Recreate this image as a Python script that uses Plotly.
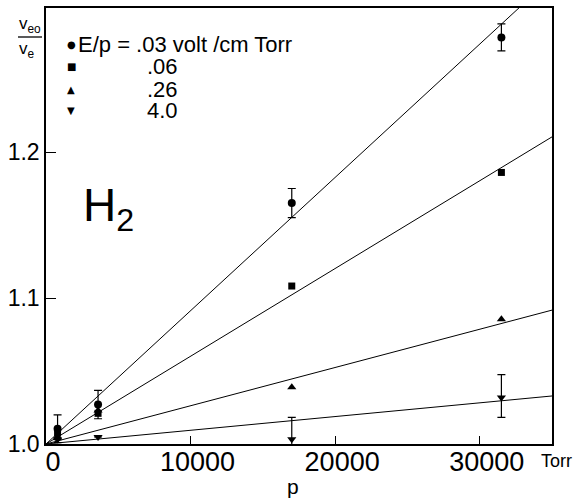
import plotly.graph_objects as go

# ---- data ----
pressure = [800, 3600, 17000, 31500]  # Torr
ratio_003 = [1.0105, 1.027, 1.1650, 1.2785]
err_003 = [0.0095, 0.0097, 0.0100, 0.0092]
ratio_006 = [1.0075, 1.021, 1.1082, 1.1860]
ratio_026 = [1.0050, 1.023, 1.0388, 1.0854]
ratio_40 = [1.0030, 1.0048, 1.0032, 1.0319]
err_40_plus = [0.0, 0.0, 0.0151, 0.0156]
err_40_minus = [0.0, 0.0, 0.0119, 0.0137]

series_names = [".03", ".06", ".26", "4.0"]
fit_slopes = [9.13e-6, 6.01e-6, 2.62e-6, 0.94e-6]  # per Torr, lines through (0, 1.0)
fit_x = [0, 35000]

x_ticks = [0, 10000, 20000, 30000]
y_ticks = [1.0, 1.1, 1.2]

FONT = "Liberation Sans"
W, H = 582, 501
ML, MR, MT, MB = 46, 30, 8, 57
PW, PH = W - ML - MR, H - MT - MB


def px(xpix):
    return (xpix - ML) / PW


def py(ypix):
    return (H - MB - ypix) / PH


fig = go.Figure()

# fitted lines
for s in fit_slopes:
    fig.add_trace(go.Scatter(
        x=fit_x, y=[1.0 + s * v for v in fit_x], mode="lines",
        line=dict(color="black", width=1), showlegend=False, hoverinfo="skip"))

common = dict(mode="markers", showlegend=False, cliponaxis=False)
fig.add_trace(go.Scatter(
    x=pressure, y=ratio_003, marker=dict(symbol="circle", size=8, color="black"),
    error_y=dict(type="data", array=err_003, color="black", thickness=1.2, width=4),
    **common))
fig.add_trace(go.Scatter(
    x=pressure, y=ratio_006, marker=dict(symbol="square", size=7, color="black"),
    **common))
fig.add_trace(go.Scatter(
    x=pressure, y=ratio_026, marker=dict(symbol="triangle-up", size=8, color="black"),
    **common))
fig.add_trace(go.Scatter(
    x=pressure, y=ratio_40, marker=dict(symbol="triangle-down", size=8, color="black"),
    error_y=dict(type="data", symmetric=False, array=err_40_plus,
                 arrayminus=err_40_minus, color="black", thickness=1.2, width=4),
    **common))

fig.update_xaxes(
    range=[0, 35000], tickvals=x_ticks, tickformat="d", automargin=False,
    ticks="inside", ticklen=8, tickwidth=1.2, tickcolor="black",
    ticklabelshift=7, ticklabelstandoff=-7,
    showline=True, linecolor="black", linewidth=1.5, mirror=True,
    showgrid=False, zeroline=False,
    tickfont=dict(family=FONT, size=27, color="black"))
fig.update_yaxes(
    range=[1.0, 1.0 + PH / 1460], tickvals=y_ticks, tickformat=".1f", automargin=False,
    ticks="inside", ticklen=10, tickwidth=1.2, tickcolor="black",
    showline=True, linecolor="black", linewidth=1.5, mirror=True,
    showgrid=False, zeroline=False,
    tickfont=dict(family=FONT, size=23, color="black"))

ann = []
# legend block
glyphs = ["\u25cf", "\u25a0", "\u25b2", "\u25bc"]
rows_y = [45, 66, 89, 111]
for g, yy in zip(glyphs, rows_y):
    ann.append(dict(x=px(71), y=py(yy), xref="paper", yref="paper", text=g,
                    showarrow=False, xanchor="center", yanchor="middle",
                    font=dict(family="DejaVu Sans", size=10, color="black")))
ann.append(dict(x=px(76), y=py(rows_y[0]), xref="paper", yref="paper",
                text="E/p = " + series_names[0] + " volt /cm Torr", showarrow=False,
                xanchor="left", yanchor="middle",
                font=dict(family=FONT, size=22, color="black")))
for name, yy in zip(series_names[1:], rows_y[1:]):
    ann.append(dict(x=px(145), y=py(yy), xref="paper", yref="paper", text=name,
                    showarrow=False, xanchor="left", yanchor="middle",
                    font=dict(family=FONT, size=22, color="black")))
# H2
ann.append(dict(x=px(81), y=py(208), xref="paper", yref="paper", text="H<sub>2</sub>",
                showarrow=False, xanchor="left", yanchor="middle",
                font=dict(family=FONT, size=46, color="black")))
# axis titles
ann.append(dict(x=px(293), y=py(487), xref="paper", yref="paper", text="p",
                showarrow=False, xanchor="center", yanchor="middle",
                font=dict(family=FONT, size=21, color="black")))
ann.append(dict(x=px(539), y=py(461), xref="paper", yref="paper", text="Torr",
                showarrow=False, xanchor="left", yanchor="middle",
                font=dict(family=FONT, size=18, color="black")))
ann.append(dict(x=px(30), y=py(25), xref="paper", yref="paper", text="v<sub>eo</sub>",
                showarrow=False, xanchor="center", yanchor="middle",
                font=dict(family=FONT, size=17, color="black")))
ann.append(dict(x=px(27), y=py(50), xref="paper", yref="paper", text="v<sub>e</sub>",
                showarrow=False, xanchor="center", yanchor="middle",
                font=dict(family=FONT, size=17, color="black")))

fig.update_layout(
    width=W, height=H, margin=dict(l=ML, r=MR, t=MT, b=MB),
    paper_bgcolor="white", plot_bgcolor="white",
    annotations=ann,
    shapes=[dict(type="line", xref="paper", yref="paper", x0=px(18), x1=px(42),
                 y0=py(37), y1=py(37), line=dict(color="black", width=1.3))])

fig.write_html(
    "out.html",
    config={"displayModeBar": False},
    post_script="document.body.style.margin='0';document.body.style.overflow='hidden';")
